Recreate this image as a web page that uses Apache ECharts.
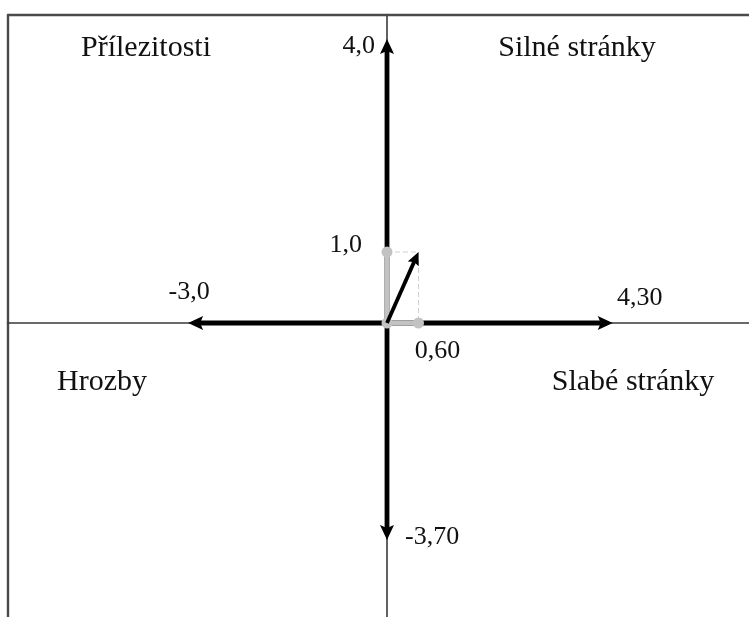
<!DOCTYPE html>
<html>
<head>
<meta charset="utf-8">
<script src="https://cdn.jsdelivr.net/npm/echarts@6/dist/echarts.min.js"></script>
<style>
html,body{margin:0;padding:0;background:#fff;}
#chart{width:749px;height:617px;}
</style>
</head>
<body>
<div id="chart"></div>
<script>
// ---- data ----
const mainDirections = ['up', 'down', 'left', 'right'];
const mainValues = [4.0, -3.70, -3.0, 4.30];
const mainLabels = ['4,0', '-3,70', '-3,0', '4,30'];
const resultantValues = [0.60, 1.0];        // [x, y]
const resultantLabels = ['0,60', '1,0'];
const quadrantNames = ['Přílezitosti', 'Silné stránky', 'Hrozby', 'Slabé stránky'];

// ---- layout / style ----
const FONT = '"Liberation Serif", "Times New Roman", serif';
const NUM_SIZE = 26;
const QUAD_SIZE = 30;
const CX = 387, CY = 323, LEFT = 8, TOP = 15, W = 749, H = 617;
const pxPerUnit = { xNeg: 66.3, xPos: 52.5, yPos: 71, yNeg: 58.65 };

const chart = echarts.init(document.getElementById('chart'), null, { renderer: 'canvas' });

const frameLine = { show: true, onZero: false, lineStyle: { color: '#4a4a4a', width: 2.4 } };
const centerLine = { show: true, onZero: false, lineStyle: { color: '#3a3a3a', width: 1.6 } };
function axis(gridIndex, min, max, position, lineCfg) {
  return {
    type: 'value', gridIndex, min, max, position,
    axisLine: lineCfg, axisTick: { show: false }, axisLabel: { show: false }, splitLine: { show: false }
  };
}
const xNegMin = -(CX - LEFT) / pxPerUnit.xNeg;
const xPosMax = (W - CX) / pxPerUnit.xPos;
const yPosMax = (CY - TOP) / pxPerUnit.yPos;
const yNegMin = -(H - CY) / pxPerUnit.yNeg;

const grids = [
  { left: LEFT, top: TOP, width: CX - LEFT, height: CY - TOP },
  { left: CX, top: TOP, width: W - CX, height: CY - TOP },
  { left: LEFT, top: CY, width: CX - LEFT, height: H - CY },
  { left: CX, top: CY, width: W - CX, height: H - CY }
];
const xAxes = [
  axis(0, xNegMin, 0, 'top', frameLine),
  axis(1, 0, xPosMax, 'top', frameLine),
  axis(2, xNegMin, 0, 'top', centerLine),
  axis(3, 0, xPosMax, 'top', centerLine)
];
const yAxes = [
  axis(0, 0, yPosMax, 'left', frameLine),
  axis(1, 0, yPosMax, 'left', centerLine),
  axis(2, yNegMin, 0, 'left', frameLine),
  axis(3, yNegMin, 0, 'left', centerLine)
];

function arrowShapes(p0, p1, shaftW, headL, headW, notch, color) {
  const dx = p1[0] - p0[0], dy = p1[1] - p0[1];
  const len = Math.sqrt(dx * dx + dy * dy) || 1;
  const ux = dx / len, uy = dy / len;
  const nx = -uy, ny = ux;
  const bx = p1[0] - ux * headL, by = p1[1] - uy * headL;
  return [
    { type: 'line', shape: { x1: p0[0], y1: p0[1], x2: bx + ux * (notch + 1), y2: by + uy * (notch + 1) },
      style: { stroke: color, lineWidth: shaftW } },
    { type: 'polygon', shape: { points: [
        [p1[0], p1[1]], [bx + nx * headW, by + ny * headW],
        [bx + ux * notch, by + uy * notch], [bx - nx * headW, by - ny * headW]] },
      style: { fill: color } }
  ];
}

// label placement relative to arrow tip (style only)
const mainLabelPos = {
  up:    { dx: -12, dy: 7,   align: 'right' },
  down:  { dx: 18,  dy: -3,  align: 'left' },
  left:  { dx: 1,   dy: -31, align: 'center' },
  right: { dx: 27,  dy: -25, align: 'center' }
};
const axisIdx = { up: 1, down: 3, left: 2, right: 3 };

const series = mainDirections.map((dir, i) => {
  const v = mainValues[i];
  const vertical = dir === 'up' || dir === 'down';
  const datum = vertical ? [0, 0, 0, v] : [0, 0, v, 0];
  return {
    type: 'custom', name: mainLabels[i], coordinateSystem: 'cartesian2d',
    xAxisIndex: axisIdx[dir], yAxisIndex: axisIdx[dir],
    encode: { x: [0, 2], y: [1, 3] },
    data: [datum], silent: true, z: 3,
    renderItem: (params, api) => {
      const p0 = api.coord([api.value(0), api.value(1)]);
      const p1 = api.coord([api.value(2), api.value(3)]);
      const lp = mainLabelPos[dir];
      const children = arrowShapes(p0, p1, 4.8, 15, 7, 3, '#000');
      children.push({ type: 'text', style: {
        text: mainLabels[i], x: p1[0] + lp.dx, y: p1[1] + lp.dy,
        align: lp.align, verticalAlign: 'middle', fill: '#111', font: NUM_SIZE + 'px ' + FONT } });
      return { type: 'group', children };
    }
  };
});

// grey component vectors with dashed projection
series.push({
  type: 'custom', name: 'components', coordinateSystem: 'cartesian2d',
  xAxisIndex: 1, yAxisIndex: 1, encode: { x: 0, y: 1 },
  data: [resultantValues], silent: true, z: 4,
  renderItem: (params, api) => {
    const rx = api.value(0), ry = api.value(1);
    const o = api.coord([0, 0]);
    const px = api.coord([rx, 0]);
    const py = api.coord([0, ry]);
    const pr = api.coord([rx, ry]);
    const grey = '#c2c2c2';
    const dash = { stroke: '#cfcfcf', lineWidth: 1, lineDash: [5, 3] };
    return { type: 'group', children: [
      { type: 'line', shape: { x1: py[0], y1: py[1], x2: pr[0], y2: pr[1] }, style: dash },
      { type: 'line', shape: { x1: pr[0], y1: pr[1], x2: px[0], y2: px[1] }, style: dash },
      { type: 'line', shape: { x1: o[0], y1: o[1], x2: py[0], y2: py[1] }, style: { stroke: grey, lineWidth: 5 } },
      { type: 'line', shape: { x1: o[0], y1: o[1], x2: px[0], y2: px[1] }, style: { stroke: grey, lineWidth: 5 } },
      { type: 'circle', shape: { cx: o[0], cy: o[1], r: 5.5 }, style: { fill: grey } },
      { type: 'circle', shape: { cx: px[0], cy: px[1], r: 5.5 }, style: { fill: grey } },
      { type: 'circle', shape: { cx: py[0], cy: py[1], r: 5.5 }, style: { fill: grey } },
      { type: 'text', style: { text: resultantLabels[0], x: px[0] + 19, y: px[1] + 28,
        align: 'center', verticalAlign: 'middle', fill: '#111', font: NUM_SIZE + 'px ' + FONT } },
      { type: 'text', style: { text: resultantLabels[1], x: py[0] - 25, y: py[1] - 7,
        align: 'right', verticalAlign: 'middle', fill: '#111', font: NUM_SIZE + 'px ' + FONT } }
    ] };
  }
});

// resultant arrow
series.push({
  type: 'custom', name: 'resultant', coordinateSystem: 'cartesian2d',
  xAxisIndex: 1, yAxisIndex: 1, encode: { x: [0, 2], y: [1, 3] },
  data: [[0, 0, resultantValues[0], resultantValues[1]]], silent: true, z: 5,
  renderItem: (params, api) => {
    const p0 = api.coord([api.value(0), api.value(1)]);
    const p1 = api.coord([api.value(2), api.value(3)]);
    return { type: 'group', children: arrowShapes(p0, p1, 3.8, 13, 6, 2, '#000') };
  }
});

const quadPos = [[146, 48], [577, 48], [102, 382], [633, 382]];
const graphic = quadrantNames.map((t, i) => ({
  type: 'text', x: quadPos[i][0], y: quadPos[i][1], silent: true,
  style: { text: t, align: 'center', verticalAlign: 'middle', fill: '#111', font: QUAD_SIZE + 'px ' + FONT }
}));

chart.setOption({
  animation: false,
  backgroundColor: '#fff',
  grid: grids, xAxis: xAxes, yAxis: yAxes,
  series, graphic
});
</script>
</body>
</html>
